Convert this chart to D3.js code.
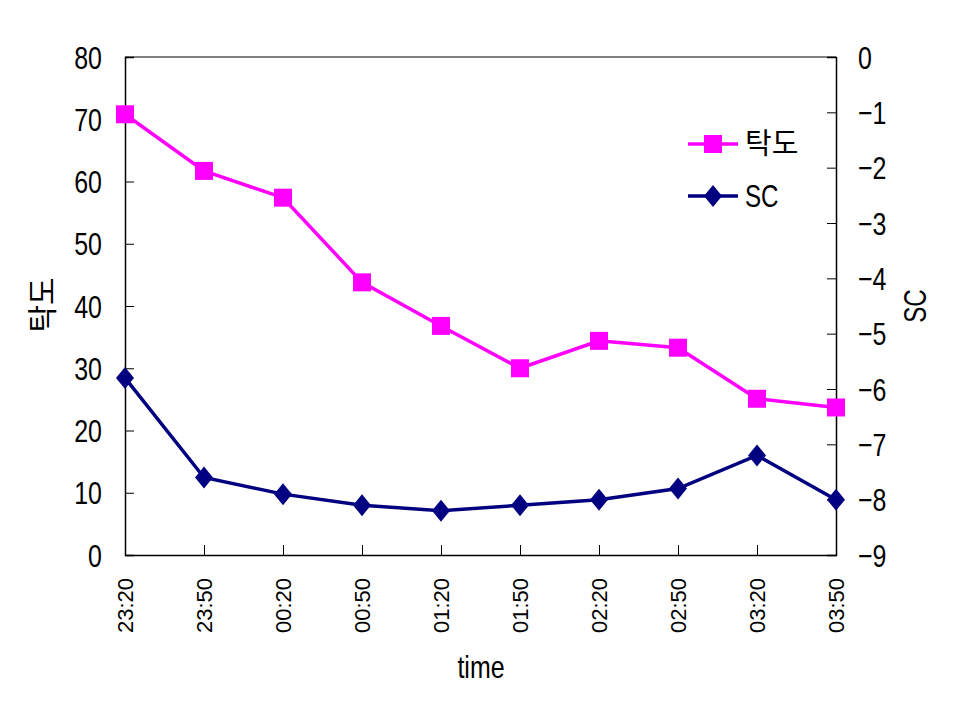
<!DOCTYPE html>
<html><head><meta charset="utf-8">
<script src="https://cdn.jsdelivr.net/npm/d3@7"></script>
<style>
body{margin:0;background:#fff;}
svg text{font-family:"Liberation Sans",sans-serif;fill:#000;}
</style></head><body>
<svg id="c" width="960" height="720"></svg>
<script>
const times = ["23:20","23:50","00:20","00:50","01:20","01:50","02:20","02:50","03:20","03:50"];
const takdo = [70.8, 61.7, 57.4, 43.8, 36.8, 30.0, 34.4, 33.3, 25.1, 23.7];
const sc = [-5.8, -7.6, -7.9, -8.1, -8.2, -8.1, -8.0, -7.8, -7.2, -8.0];
const leftTicks = [0,10,20,30,40,50,60,70,80];
const rightTicks = [0,-1,-2,-3,-4,-5,-6,-7,-8,-9];

const L=125, R=836, T=57, B=555;
const S=0.78; // horizontal condensing for narrow look
const svg = d3.select("#c");
const x = d3.scalePoint().domain(times).range([L, R]);
const yL = d3.scaleLinear().domain([0,80]).range([B,T]);
const yR = d3.scaleLinear().domain([-9,0]).range([B,T]);

// top border
svg.append("line").attr("x1",L).attr("x2",R).attr("y1",T).attr("y2",T).attr("stroke","#808080").attr("stroke-width",2);

// left axis
const gL = svg.append("g").attr("transform",`translate(${L},0)`)
  .call(d3.axisLeft(yL).tickValues(leftTicks).tickSize(-9).tickPadding(23).tickFormat(d3.format("d")));
gL.select(".domain").attr("stroke","#000").attr("stroke-width",1.5);
gL.selectAll(".tick line").attr("stroke","#000");
gL.selectAll("text").style("font-size","32px").attr("dy","0.35em").attr("x",-23/S).attr("transform",`scale(${S},1)`);

// right axis
const gR = svg.append("g").attr("transform",`translate(${R},0)`)
  .call(d3.axisRight(yR).tickValues(rightTicks).tickSize(-9).tickPadding(22).tickFormat(d=> d<0 ? "\u2212"+Math.abs(d) : String(d)));
gR.select(".domain").attr("stroke","#000").attr("stroke-width",1.5);
gR.selectAll(".tick line").attr("stroke","#000");
gR.selectAll("text").style("font-size","32px").attr("dy","0.35em").attr("x",22/S).attr("transform",`scale(${S},1)`);

// bottom axis
const gB = svg.append("g").attr("transform",`translate(0,${B})`)
  .call(d3.axisBottom(x).tickSize(-10).tickSizeOuter(0).tickFormat(d=>d));
gB.select(".domain").attr("stroke","#000").attr("stroke-width",1.5);
gB.selectAll(".tick line").attr("stroke","#000");
gB.selectAll("text")
  .style("font-size","22px")
  .attr("transform","rotate(-90)").attr("text-anchor","end")
  .attr("x",-23).attr("y",0).attr("dy","0.35em");

// axis titles
svg.append("text").attr("transform","translate(53,305) rotate(-90)")
  .attr("text-anchor","middle").style("font-size","30px").style("font-family","'Noto Sans CJK KR',sans-serif").text("탁도");
svg.append("text").attr("transform",`translate(926,306) rotate(-90) scale(${S},1)`)
  .attr("text-anchor","middle").style("font-size","31px").text("SC");
svg.append("text").attr("transform",`translate(481,678) scale(${S},1)`).attr("text-anchor","middle").style("font-size","32px").text("time");

// lines
const line1 = d3.line().x((d,i)=>x(times[i])).y(d=>yL(d));
const line2 = d3.line().x((d,i)=>x(times[i])).y(d=>yR(d));
svg.append("path").datum(sc).attr("d",line2).attr("fill","none").attr("stroke","#000080").attr("stroke-width",3.5);
svg.append("path").datum(takdo).attr("d",line1).attr("fill","none").attr("stroke","#FF00FF").attr("stroke-width",3.5);

const sq = d3.symbol().type(d3.symbolSquare).size(324);
const dm = (cx,cy)=>`M${cx},${cy-11}L${cx+9},${cy}L${cx},${cy+11}L${cx-9},${cy}Z`;
svg.selectAll(".sc").data(sc).join("path").attr("d",(d,i)=>dm(x(times[i]),yR(d))).attr("fill","#000080");
svg.selectAll(".tk").data(takdo).join("path").attr("d",sq)
  .attr("transform",(d,i)=>`translate(${x(times[i])},${yL(d)})`).attr("fill","#FF00FF");

// legend
const lg = svg.append("g");
lg.append("line").attr("x1",688).attr("x2",738).attr("y1",144).attr("y2",144).attr("stroke","#FF00FF").attr("stroke-width",3.5);
lg.append("path").attr("d",sq).attr("transform","translate(713,144)").attr("fill","#FF00FF");
lg.append("text").attr("x",745).attr("y",144).attr("dy","0.35em").style("font-size","29px").style("font-family","'Noto Sans CJK KR',sans-serif").text("탁도");
lg.append("line").attr("x1",688).attr("x2",738).attr("y1",196).attr("y2",196).attr("stroke","#000080").attr("stroke-width",3.5);
lg.append("path").attr("d",dm(713,196)).attr("fill","#000080");
lg.append("text").attr("transform",`translate(745,196) scale(${S},1)`).attr("dy","0.35em").style("font-size","31px").text("SC");
</script></body></html>
